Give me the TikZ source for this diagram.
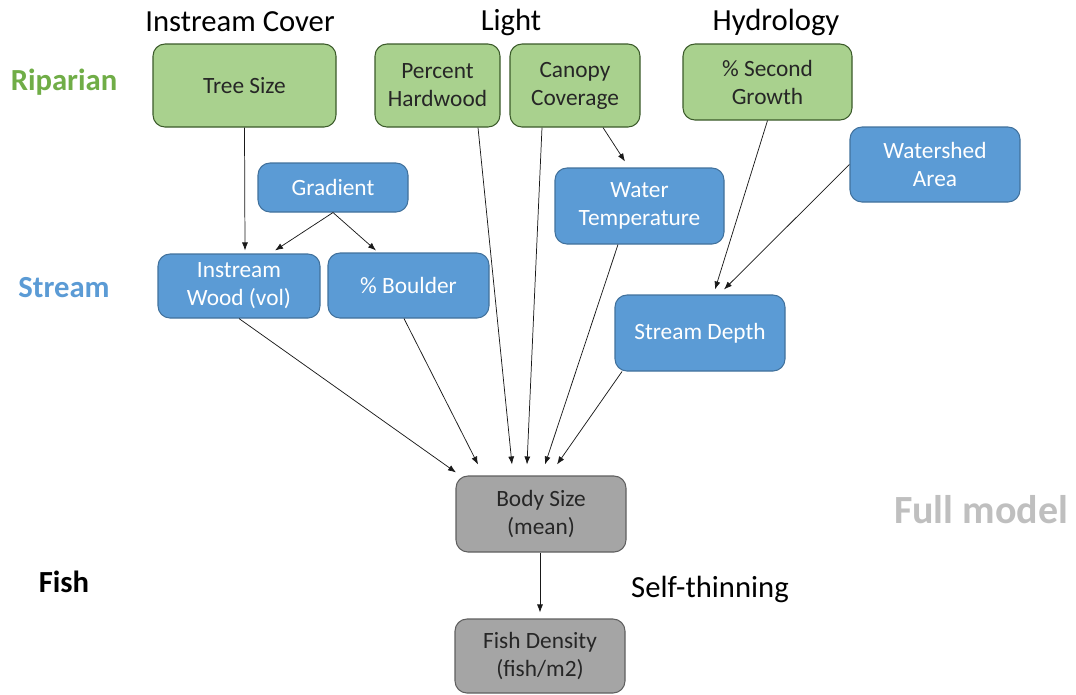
\documentclass[tikz,border=0pt]{standalone}
\usepackage{fontspec}
\setmainfont{Carlito}
\usetikzlibrary{arrows.meta,calc}
\definecolor{gfill}{HTML}{A9D18E}
\definecolor{gline}{HTML}{3B5A2A}
\definecolor{bfill}{HTML}{5B9BD5}
\definecolor{bline}{HTML}{41719C}
\definecolor{kfill}{HTML}{A5A5A5}
\definecolor{kline}{HTML}{5F5F5F}
\definecolor{riptext}{HTML}{70AD47}
\definecolor{strtext}{HTML}{5B9BD5}
\definecolor{fulltext}{HTML}{BFBFBF}
\tikzset{
  box/.style={rounded corners=9pt, line width=0.8pt, align=center, inner sep=2pt,
    font=\fontsize{17.5}{21}\selectfont},
  gbox/.style={box, fill=gfill, draw=gline, text=black!85},
  bbox/.style={box, fill=bfill, draw=bline, text=white},
  kbox/.style={box, fill=kfill, draw=kline, text=black!85},
  head/.style={font=\fontsize{23}{26}\selectfont, text=black},
  side/.style={font=\fontsize{23}{26}\selectfont\bfseries},
  arr/.style={-{Latex[length=6pt,width=4.5pt]}, line width=0.55pt, draw=black!90},
}
\begin{document}
\begin{tikzpicture}[x=0.75pt,y=-0.75pt]
\useasboundingbox (0,0) rectangle (1076,694);
% headers
\node[head] (hic) at (240,22) {Instream Cover};
\node[head] (hli) at (511,22) {Light};
\node[head] (hhy) at (776,22) {Hydrology};
\node[side, text=riptext] (lrip) at (64,82) {Riparian};
\node[side, text=strtext] (lstr) at (64,288) {Stream};
\node[side, text=black] (lfish) at (64,582) {Fish};
\node[font=\fontsize{30}{34}\selectfont\bfseries, text=fulltext] (full) at (981,510) {Full model};
\node[head] (self) at (710,589) {Self-thinning};
% riparian
\node[gbox, minimum width=137.25pt, minimum height=62.25pt] (ts) at (244.5,85.5) {Tree Size};
\node[gbox, minimum width=93.75pt, minimum height=62.25pt] (hw) at (437.5,85.5) {Percent\\Hardwood};
\node[gbox, minimum width=97.5pt, minimum height=62.25pt] (cc) at (575,85.5) {Canopy\\Coverage};
\node[gbox, minimum width=126.75pt, minimum height=57pt] (sg) at (767.5,82) {\% Second\\Growth};
% stream
\node[bbox, minimum width=127.5pt, minimum height=56.25pt] (wa) at (935,164.5) {Watershed\\Area};
\node[bbox, minimum width=112.5pt, minimum height=36.75pt] (gr) at (333,187.5) {Gradient};
\node[bbox, minimum width=126.75pt, minimum height=57pt] (wt) at (639.5,206) {Water\\Temperature};
\node[bbox, minimum width=121.5pt, minimum height=48pt] (iw) at (239,286) {Instream\\Wood (vol)};
\node[bbox, minimum width=120.75pt, minimum height=48.75pt] (bo) at (408.5,285.5) {\% Boulder};
\node[bbox, minimum width=127.5pt, minimum height=57pt] (sd) at (700,333) {Stream Depth};
% fish
\node[kbox, minimum width=127.5pt, minimum height=57pt] (bs) at (541,514) {Body Size\\(mean)};
\node[kbox, minimum width=127.5pt, minimum height=55.5pt] (fd) at (540,656) {Fish Density\\(fish/m2)};
% arrows
\draw[arr] (ts.south) -- ($(iw.north)+(6,-3)$);
\draw[arr] (gr.south) -- ($(iw.north)+(36,-3)$);
\draw[arr] (gr.south) -- ($(bo.north)+(-32.5,-2)$);
\draw[arr] ($(cc.south)+(28,0)$) -- ($(wt.north)+(-14.5,-6)$);
\draw[arr] (sg.south) -- ($(sd.north)+(15,-5)$);
\draw[arr] (wa.west) -- ($(sd.north)+(24,-5)$);
\draw[arr] (iw.south) -- ($(bs.north)+(-85,-3)$);
\draw[arr] ($(bo.south)+(-4.5,0)$) -- ($(bs.north)+(-63,-11)$);
\draw[arr] ($(hw.south)+(40.5,0)$) -- ($(bs.north)+(-29,-11)$);
\draw[arr] ($(cc.south)+(-33,0)$) -- ($(bs.north)+(-14,-11)$);
\draw[arr] ($(wt.south)+(-21.5,0)$) -- ($(bs.north)+(4,-11)$);
\draw[arr] ($(sd.south)+(-78,0)$) -- ($(bs.north)+(16,-11)$);
\draw[arr] ($(bs.south)+(-1,0)$) -- ($(fd.north)+(0,-6)$);
\end{tikzpicture}
\end{document}
